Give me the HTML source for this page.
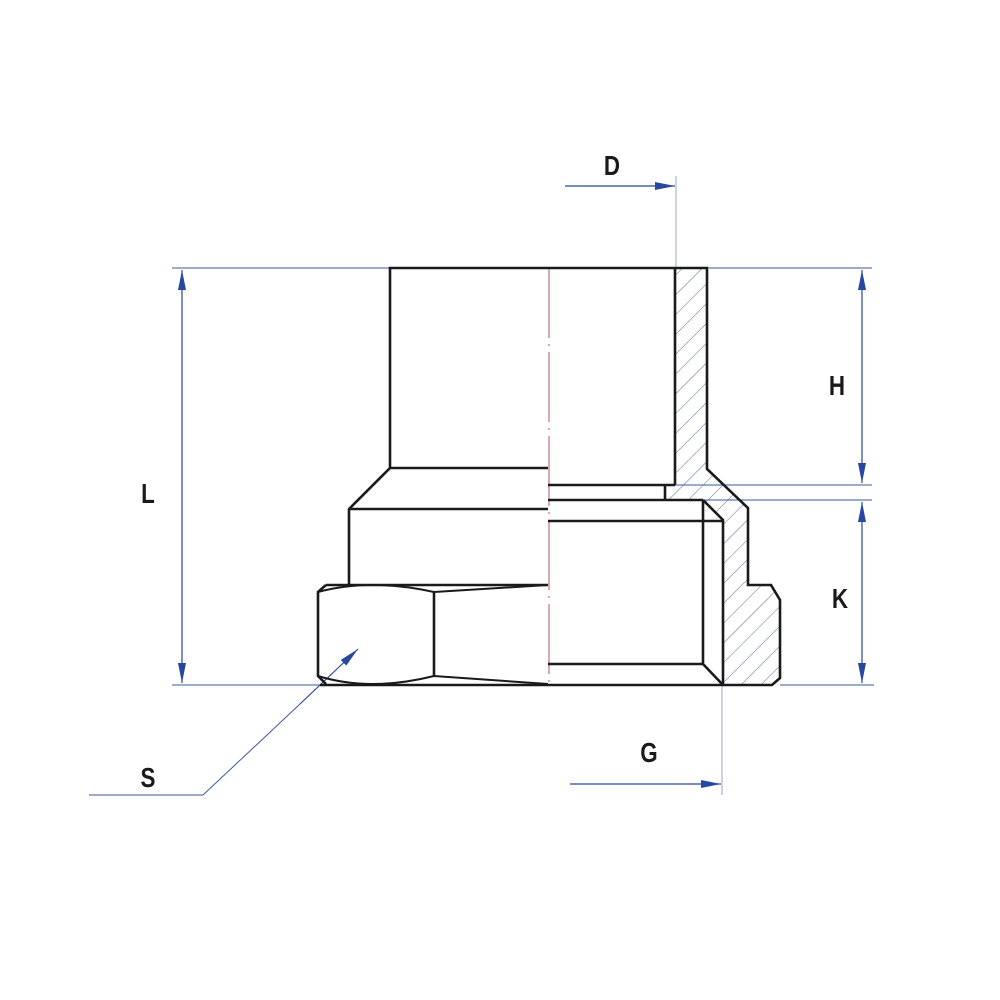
<!DOCTYPE html>
<html><head><meta charset="utf-8"><style>html,body{margin:0;padding:0;background:#fff}svg{display:block}</style></head>
<body>
<svg width="1000" height="1000" viewBox="0 0 1000 1000" xmlns="http://www.w3.org/2000/svg">
<defs>
<pattern id="h" patternUnits="userSpaceOnUse" width="14" height="14" patternTransform="rotate(45)">
<line x1="0" y1="0" x2="0" y2="14" stroke="#5a6e9e" stroke-width="1"/>
</pattern>
<marker id="a" viewBox="0 0 20 8" refX="20" refY="4" markerWidth="20" markerHeight="8" markerUnits="userSpaceOnUse" orient="auto-start-reverse">
<path d="M0,0 L20,4 L0,8 Z" fill="#2747a0"/>
</marker>
</defs>
<polygon points="675,268 707,268 707,469 748,508 748,585 771,585 780,600 780,678 772,685 723,685 723,520 703,500 665,500 665,485 675,485" fill="url(#h)"/>
<g stroke="#3b5a9e" stroke-width="1" fill="none">
<line x1="172" y1="268" x2="390" y2="268"/>
<line x1="172" y1="685" x2="320" y2="685"/>
<line x1="707" y1="268" x2="872" y2="268"/>
<line x1="675" y1="485" x2="872" y2="485"/>
<line x1="703" y1="500" x2="872" y2="500"/>
<line x1="780" y1="685" x2="874" y2="685"/>
<line x1="676" y1="176" x2="676" y2="268" stroke="#9aa5bd"/>
<line x1="722" y1="685" x2="722" y2="795" stroke="#9aa5bd"/>
<polyline points="89,795 203,795 300,704"/>
</g>
<g stroke="#2747a0" stroke-width="1.2" fill="none">
<line x1="182" y1="270" x2="182" y2="683" marker-start="url(#a)" marker-end="url(#a)"/>
<line x1="862" y1="270" x2="862" y2="483" marker-start="url(#a)" marker-end="url(#a)"/>
<line x1="862" y1="502" x2="862" y2="683" marker-start="url(#a)" marker-end="url(#a)"/>
<line x1="565" y1="186" x2="675" y2="186" marker-end="url(#a)"/>
<line x1="570" y1="784" x2="721" y2="784" marker-end="url(#a)"/>
<line x1="300" y1="704" x2="358" y2="649" marker-end="url(#a)"/>
</g>
<line x1="549" y1="268" x2="549" y2="685" stroke="#c0505a" stroke-width="1" stroke-dasharray="70,6,2,6"/>
<g stroke="#1a1a1a" stroke-width="2.6" fill="none" stroke-linejoin="miter">
<polyline points="390,468 390,268 707,268 707,469 748,508 748,585 771,585 780,600 780,678 772,685 320,685"/>
<line x1="675" y1="268" x2="675" y2="485"/>
<line x1="548" y1="485" x2="675" y2="485"/>
<line x1="665" y1="485" x2="665" y2="500"/>
<line x1="548" y1="500" x2="703" y2="500"/>
<polyline points="703,500 723,520 723,685"/>
<line x1="548" y1="521" x2="723" y2="521"/>
<polyline points="703,500 703,664 723,685"/>
<line x1="548" y1="664" x2="703" y2="664"/>
<line x1="390" y1="468" x2="548" y2="468"/>
<polyline points="390,468 349,509 349,585"/>
<line x1="349" y1="509" x2="548" y2="509"/>
<line x1="326" y1="585" x2="548" y2="585"/>
<polyline points="326,585 318,592 318,676 326,684"/>
<line x1="434" y1="592" x2="434" y2="676"/>
<path d="M318,592 Q370,578 434,592 L548,585" stroke-width="2"/>
<path d="M318,676 Q370,692 434,676 L548,684" stroke-width="2"/>
</g>
<g font-family="'Liberation Sans',sans-serif" font-weight="bold" font-size="28" fill="#1a1a1a" text-anchor="middle">
<text transform="translate(148,503) scale(0.8,1)">L</text>
<text transform="translate(612,175) scale(0.8,1)">D</text>
<text transform="translate(837,395) scale(0.8,1)">H</text>
<text transform="translate(840,608) scale(0.8,1)">K</text>
<text transform="translate(649,762) scale(0.8,1)">G</text>
<text transform="translate(148,787) scale(0.8,1)">S</text>
</g>
</svg>
</body></html>
